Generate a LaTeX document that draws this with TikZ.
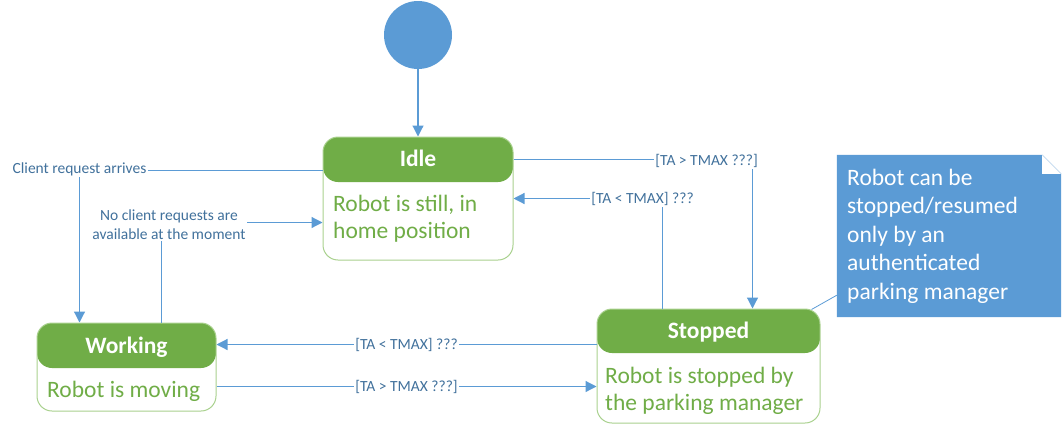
\documentclass[tikz,border=0pt]{standalone}
\usepackage{fontspec}
\setmainfont{Carlito}
\usetikzlibrary{arrows.meta,calc}
\definecolor{hdrgreen}{HTML}{70AD47}
\definecolor{bordergreen}{HTML}{A9D18E}
\definecolor{txtgreen}{HTML}{70AD47}
\definecolor{umlblue}{HTML}{5B9BD5}
\definecolor{lbltext}{HTML}{41719C}
\begin{document}
\begin{tikzpicture}[x=1pt,y=-1pt,
  statebox/.style={draw=bordergreen, line width=1pt, rounded corners=15pt, fill=white, inner sep=0pt,
    path picture={\fill[hdrgreen] (path picture bounding box.north west) rectangle ([yshift=-#1]path picture bounding box.north east);}},
  hdr/.style={font=\fontsize{23.5}{28}\selectfont\bfseries, text=white, anchor=base, inner sep=0pt},
  body/.style={font=\fontsize{23.5}{27}\selectfont, text=txtgreen, anchor=base west, align=left, inner sep=0pt},
  notetext/.style={font=\fontsize{23.5}{28.4}\selectfont, text=white, anchor=base west, align=left, inner sep=0pt},
  conn/.style={draw=umlblue, line width=1.2pt, -{Triangle[length=11pt,width=11pt]}},
  lbl/.style={font=\fontsize{15.5}{19}\selectfont, text=lbltext, fill=white, inner sep=1.5pt, align=center},
  ]
\useasboundingbox (0,0) rectangle (1064,431);

% initial state
\node[circle, fill=umlblue, minimum size=68pt, inner sep=0pt] (init) at (418,35) {};

% states (multi-line body texts are anchored at the baseline of their last line)
\node[statebox=45pt, minimum width=190pt, minimum height=123pt] (idle) at (418,198.5) {};
\node[hdr] (idleT) at (418,166) {Idle};
\node[body] (idleB) at (333,238) {Robot is still, in\\home position};

\node[statebox=45pt, minimum width=179pt, minimum height=88pt] (working) at (126.5,367) {};
\node[hdr] (workingT) at (126.5,353) {Working};
\node[body] (workingB) at (47,397) {Robot is moving};

\node[statebox=44pt, minimum width=223pt, minimum height=114pt] (stopped) at (708.5,366) {};
\node[hdr] (stoppedT) at (708.5,338) {Stopped};
\node[body] (stoppedB) at (605,410) {Robot is stopped by\\the parking manager};

% note
\node[minimum width=224pt, minimum height=162pt, inner sep=0pt] (note) at (949,236) {};
\fill[umlblue] (note.north west) -- ($(note.north east)+(-19,0)$) -- ($(note.north east)+(0,19)$)
  -- (note.south east) -- (note.south west) -- cycle;
\fill[white] ($(note.north east)+(-19,0)$) -- ($(note.north east)+(-19,19)$) -- ($(note.north east)+(0,19)$) -- cycle;
\draw[umlblue!35, line width=0.6pt] ($(note.north east)+(-19,0)$) -- ($(note.north east)+(0,19)$);
\node[notetext] (noteT) at (847,299) {Robot can be\\stopped/resumed\\only by an\\authenticated\\parking manager};
\draw[umlblue, line width=0.8pt] ($(note.south west)+(0,-22)$) -- ($(stopped.north east)+(-9,1)$);

% transitions
\draw[conn] (init) -- (idle);
\draw[conn] ($(idle.north west)+(0,34)$) -| node[lbl,pos=0.5,yshift=1.5pt]{Client request arrives} ($(working.north west)+(43,0)$);
\draw[conn] ($(working.north west)+(125,0)$) |- node[lbl,pos=0.5,xshift=7.5pt,yshift=-2.5pt]{No client requests are\\available at the moment} ($(idle.north west)+(0,86)$);
\draw[conn] ($(idle.north east)+(0,23)$) -| node[lbl,pos=0.404,yshift=-1.5pt]{[TA > TMAX ???]} ($(stopped.north west)+(156,0)$);
\draw[conn] ($(stopped.north west)+(66,0)$) |- node[lbl,pos=0.567]{[TA < TMAX] ???} ($(idle.north east)+(0,62)$);
\draw[conn] ($(stopped.north west)+(0,36)$) -- node[lbl]{[TA < TMAX] ???} ($(working.north east)+(0,22)$);
\draw[conn] ($(working.north east)+(0,64)$) -- node[lbl]{[TA > TMAX ???]} ($(stopped.north west)+(0,78)$);
\end{tikzpicture}
\end{document}
